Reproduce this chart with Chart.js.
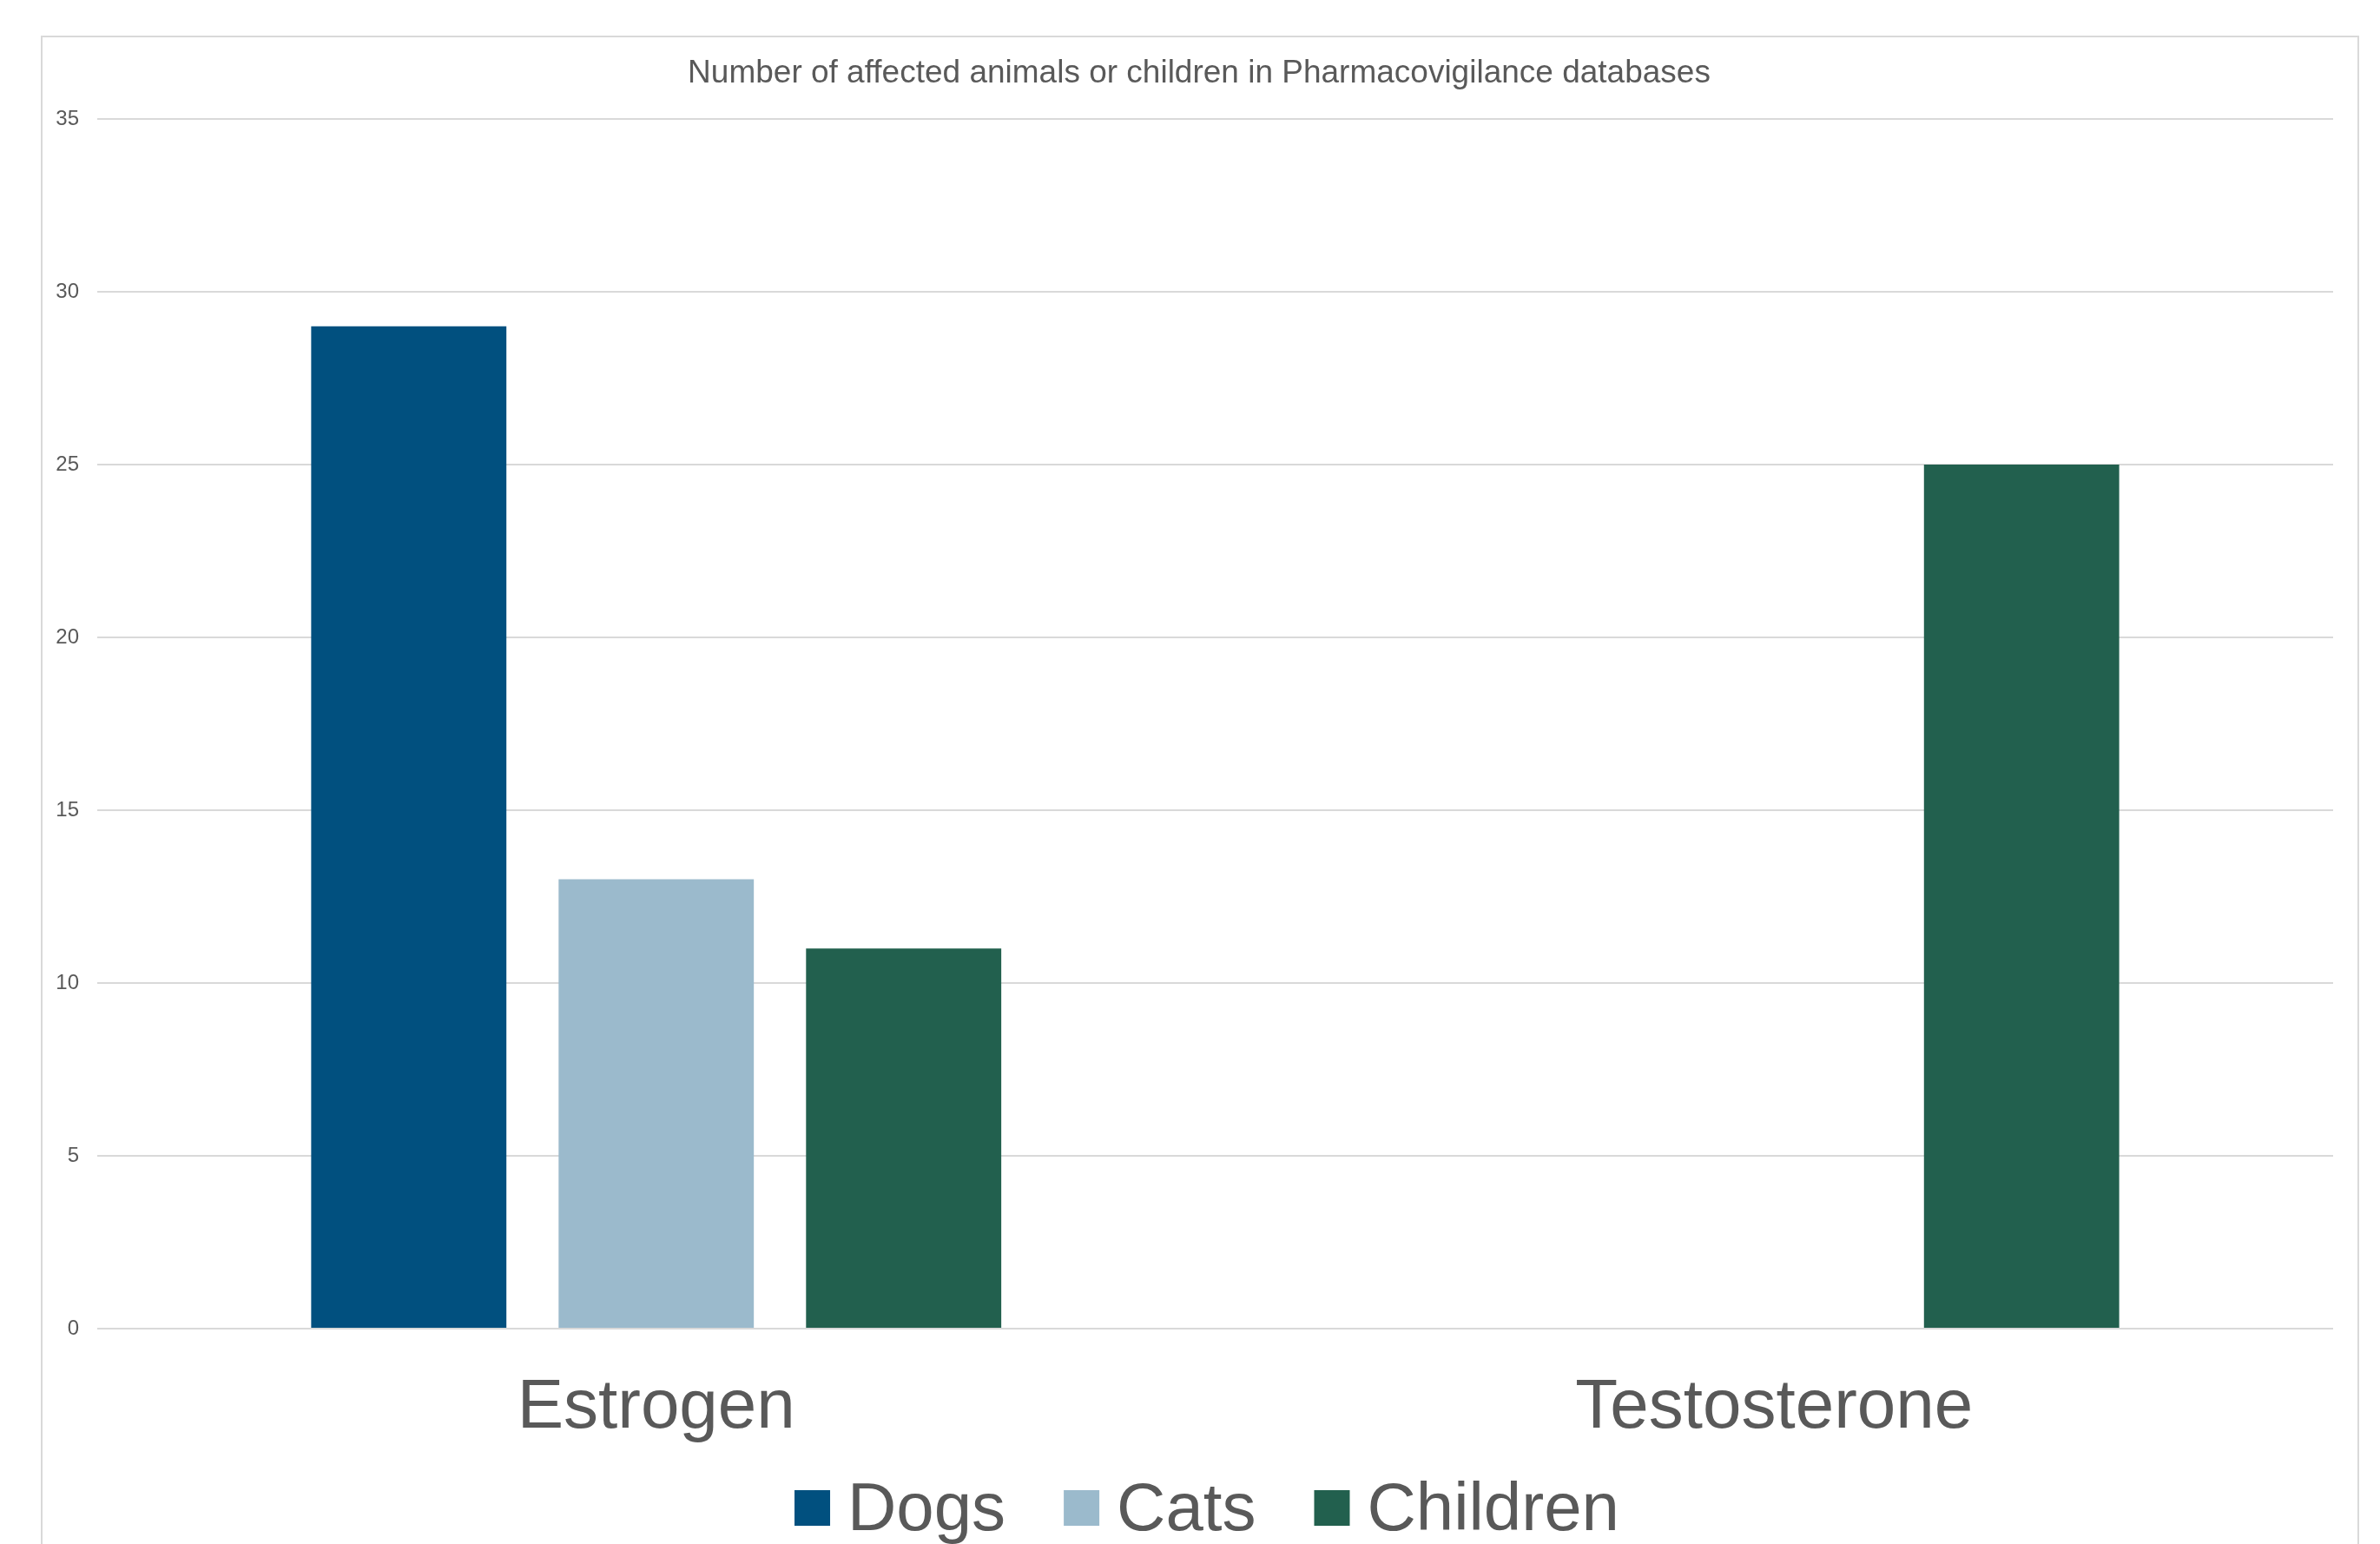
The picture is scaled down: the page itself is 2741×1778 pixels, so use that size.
<!DOCTYPE html>
<html>
<head>
<meta charset="utf-8">
<title>Pharmacovigilance reports</title>
<script src="https://cdn.jsdelivr.net/npm/chart.js@4.4.1/dist/chart.umd.min.js"></script>
<style>
  html, body { margin: 0; padding: 0; background: #ffffff; overflow: hidden; }
  #chart { display: block; }
</style>
</head>
<body>
<canvas id="chart" width="2741" height="1778"></canvas>
<script>
// Hormone categories and report counts per affected group
const categories = ['Estrogen', 'Testosterone'];
const seriesNames = ['Dogs', 'Cats', 'Children'];
const dogs = [29, null];
const cats = [13, null];
const children = [11, 25];
const chartTitle = 'Number of affected animals or children in Pharmacovigilance databases';

const seriesColors = ['#01507F', '#9BBACC', '#22604E'];
const textColor = '#595959';
const gridColor = '#d9d9d9';
const fontFamily = '"Liberation Sans", Arial, sans-serif';

Chart.defaults.font.family = fontFamily;
Chart.defaults.color = textColor;

// White page with a thin grey frame around the chart, and the title centred in the frame
const framePlugin = {
  id: 'frame',
  beforeDraw(chart) {
    const ctx = chart.ctx;
    ctx.save();
    ctx.fillStyle = '#ffffff';
    ctx.fillRect(0, 0, chart.width, chart.height);
    ctx.strokeStyle = gridColor;
    ctx.lineWidth = 2;
    ctx.strokeRect(48, 42, 2668, 1800);
    ctx.font = '37px ' + fontFamily;
    ctx.fillStyle = textColor;
    ctx.textAlign = 'center';
    ctx.textBaseline = 'alphabetic';
    ctx.fillText(chartTitle, 1381, 95);
    ctx.restore();
  }
};

// Series key drawn under the category labels: square swatch, then the name
const keyPlugin = {
  id: 'seriesKey',
  afterDraw(chart) {
    const ctx = chart.ctx;
    ctx.save();
    ctx.font = '78px ' + fontFamily;
    ctx.textBaseline = 'alphabetic';
    ctx.textAlign = 'left';
    const box = 41, gap = 20, spacing = 67;
    const items = chart.data.datasets.map(ds => ({
      text: ds.label,
      color: ds.backgroundColor,
      w: ctx.measureText(ds.label).width
    }));
    const total = items.reduce((s, it) => s + box + gap + it.w, 0) + spacing * (items.length - 1);
    let x = 1390 - total / 2;
    const boxTop = 1716;
    const baseline = 1762;
    items.forEach(it => {
      ctx.fillStyle = it.color;
      ctx.fillRect(x, boxTop, box, box);
      x += box + gap;
      ctx.fillStyle = textColor;
      ctx.fillText(it.text, x, baseline);
      x += it.w + spacing;
    });
    ctx.restore();
  }
};

const seriesValues = [dogs, cats, children];

new Chart(document.getElementById('chart'), {
  type: 'bar',
  data: {
    labels: categories,
    datasets: seriesNames.map((name, i) => ({
      label: name,
      data: seriesValues[i],
      backgroundColor: seriesColors[i],
      borderWidth: 0,
      categoryPercentage: 0.664,
      barPercentage: 0.789
    }))
  },
  options: {
    responsive: false,
    animation: false,
    layout: { padding: { top: 137, left: 0, right: 54, bottom: 64 } },
    plugins: {
      legend: { display: false },
      tooltip: { enabled: false },
      title: { display: false }
    },
    scales: {
      x: {
        grid: { display: false, drawTicks: false },
        border: { display: false },
        ticks: { color: textColor, font: { size: 80, lineHeight: 1.2 }, padding: 44 }
      },
      y: {
        min: 0,
        max: 35,
        afterFit(scale) { scale.width = 112; },
        grid: { color: gridColor, lineWidth: 2, drawTicks: false },
        border: { display: false },
        ticks: { stepSize: 5, color: textColor, font: { size: 24 }, padding: 21 }
      }
    }
  },
  plugins: [framePlugin, keyPlugin]
});
</script>
</body>
</html>
